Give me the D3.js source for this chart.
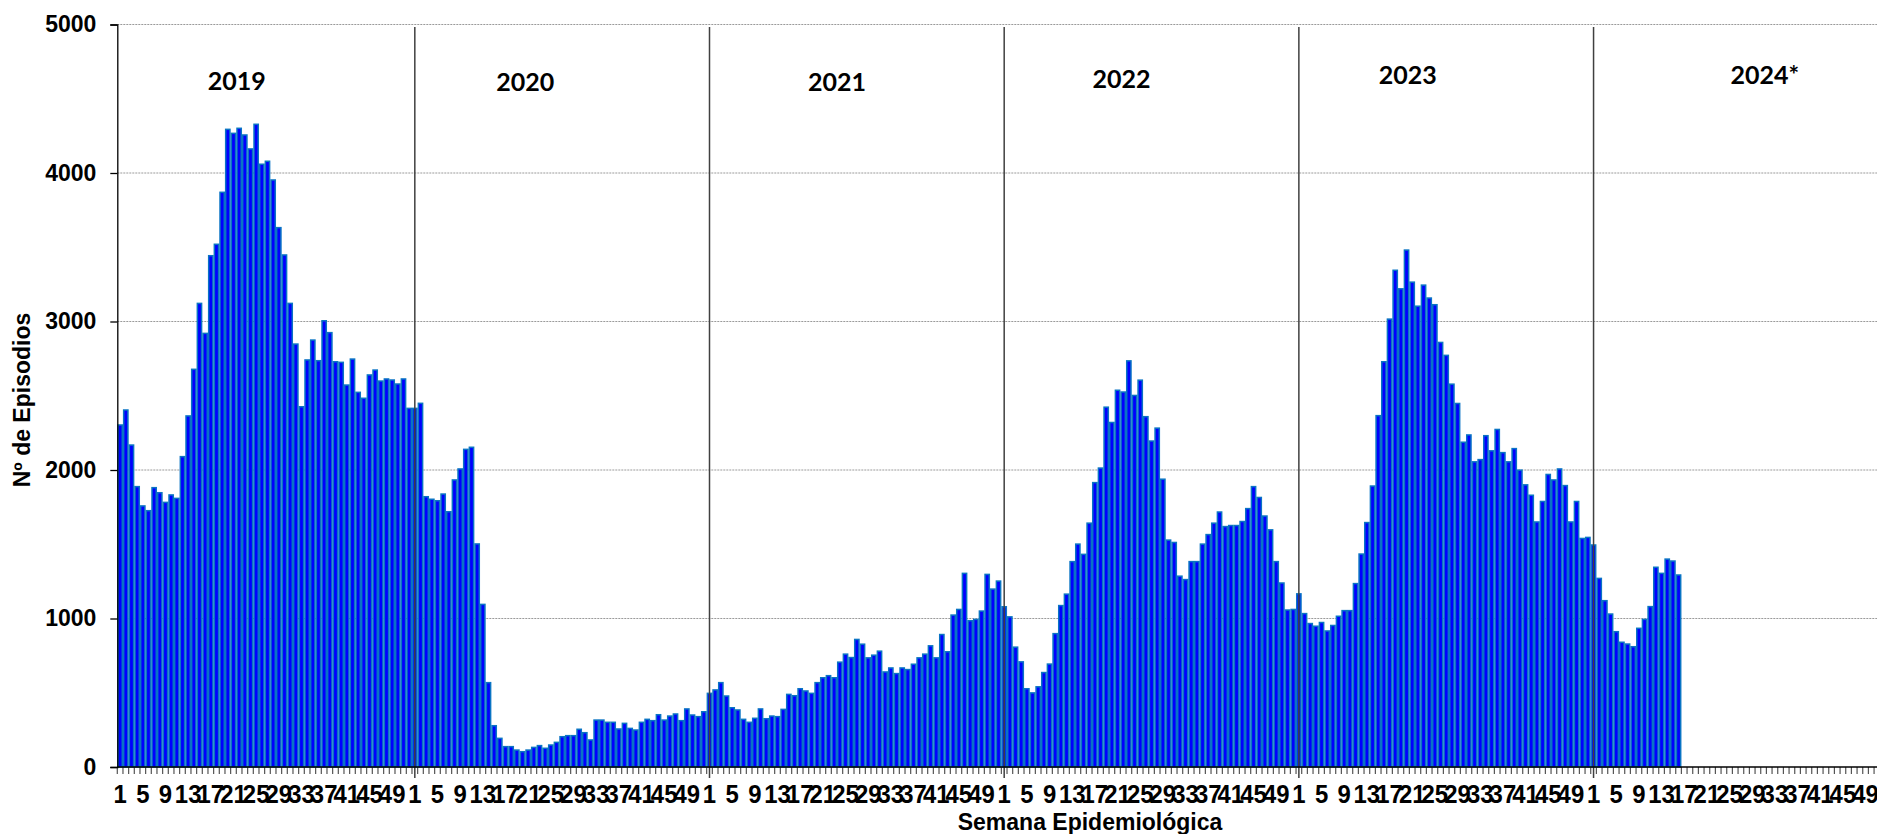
<!DOCTYPE html>
<html>
<head>
<meta charset="utf-8">
<script src="https://cdn.jsdelivr.net/npm/d3@7"></script>
<style>
  body { margin: 0; background: #fff; overflow: hidden; }
  svg { display: block; }
</style>
</head>
<body>
<svg id="chart" width="1877" height="834"></svg>
<script>
// DATA
const years = ["2019", "2020", "2021", "2022", "2023", "2024*"];
const weekTicks = [1, 5, 9, 13, 17, 21, 25, 29, 33, 37, 41, 45, 49];
const yTicks = [0, 1000, 2000, 3000, 4000, 5000];

const ep2019 = [2303, 2404, 2168, 1888, 1758, 1726, 1881, 1847, 1782, 1832, 1809, 2090, 2364,
    2678, 3122, 2920, 3443, 3520, 3870, 4294, 4267, 4301, 4256, 4162, 4328, 4059,
    4079, 3953, 3632, 3448, 3122, 2848, 2426, 2741, 2875, 2736, 3005, 2925, 2729,
    2725, 2572, 2747, 2523, 2483, 2640, 2673, 2599, 2613, 2606, 2579, 2613, 2415];
const ep2020 = [2415, 2449, 1820, 1803, 1793, 1838, 1719, 1933, 2007, 2139, 2153, 1502, 1095,
    568, 278, 193, 137, 137, 114, 103, 114, 132, 144, 126, 148, 166,
    204, 211, 211, 254, 231, 182, 316, 316, 301, 301, 256, 294, 260,
    249, 301, 321, 312, 352, 316, 343, 357, 312, 391, 350, 339, 372];
const ep2021 = [496, 519, 568, 478, 399, 384, 321, 301, 328, 391, 325, 343, 339,
    388, 489, 480, 527, 512, 496, 568, 601, 615, 601, 706, 760, 737,
    859, 827, 735, 753, 780, 640, 667, 629, 667, 656, 692, 735, 760,
    816, 735, 892, 776, 1023, 1061, 1304, 985, 994, 1050, 1297, 1198, 1252];
const ep2022 = [1079, 1011, 807, 708, 527, 499, 540, 636, 693, 898, 1087, 1164, 1383,
    1501, 1432, 1642, 1915, 2013, 2423, 2320, 2537, 2525, 2735, 2502, 2605, 2359,
    2195, 2282, 1938, 1528, 1512, 1285, 1262, 1383, 1383, 1501, 1565, 1642, 1717,
    1619, 1626, 1626, 1653, 1740, 1888, 1815, 1690, 1597, 1383, 1239, 1057, 1061];
const ep2023 = [1166, 1033, 966, 948, 973, 916, 953, 1015, 1053, 1053, 1235, 1434, 1646,
    1892, 2366, 2729, 3016, 3345, 3220, 3481, 3265, 3103, 3245, 3158, 3113, 2859,
    2772, 2578, 2448, 2187, 2236, 2055, 2070, 2231, 2129, 2273, 2117, 2055, 2144,
    1999, 1900, 1830, 1650, 1788, 1970, 1933, 2007, 1895, 1650, 1788, 1539, 1546];
const ep2024 = [1495, 1270, 1120, 1030, 911, 840, 828, 810, 934, 994, 1080, 1345, 1304,
    1400, 1387, 1293];

const series = [ep2019, ep2020, ep2021, ep2022, ep2023, ep2024];
const weeksPerYear = 52;

// where each year title sits: week offset inside the year, height in episodes
const yearLabelAt = [[21.1, 4560], [20.0, 4550], [23.0, 4550], [21.2, 4570], [19.7, 4600], [30.7, 4600]];

// one entry per category on the axis (every week of every year)
var cats = [];
years.forEach(function (yr, i) {
    for (var w = 1; w <= weeksPerYear; w++) {
        cats.push({ idx: cats.length, year: yr, week: w, value: series[i][w - 1] });
    }
});

var svg = d3.select("#chart"),
    plotLeft = 117.3,
    plotTop = 24.5,
    plotBottom = 767,
    bandW = 5.667,
    plotRight = plotLeft + cats.length * bandW;

var x = d3.scaleBand()
    .domain(cats.map(function (d) { return d.idx; }))
    .range([plotLeft, plotRight])
    .padding(0);

var y = d3.scaleLinear().domain([0, 5000]).range([plotBottom, plotTop]);

// gridlines
svg.append("g")
    .selectAll("line")
    .data(yTicks.filter(function (d) { return d > 0; }))
    .enter().append("line")
    .attr("x1", plotLeft).attr("x2", plotRight)
    .attr("y1", function (d) { return y(d); })
    .attr("y2", function (d) { return y(d); })
    .attr("stroke", "#9a9a9a")
    .attr("stroke-width", 1)
    .attr("stroke-dasharray", "2,1");

// bars
svg.append("g")
    .selectAll("rect")
    .data(cats.filter(function (d) { return d.value !== undefined; }))
    .enter().append("rect")
    .attr("x", function (d) { return x(d.idx) + 0.7; })
    .attr("y", function (d) { return y(d.value); })
    .attr("width", x.bandwidth() - 1.4)
    .attr("height", function (d) { return plotBottom - y(d.value); })
    .attr("fill", "#0000ff")
    .attr("stroke", "#0a74c4")
    .attr("stroke-width", 1.5);

// year separators
svg.append("g")
    .selectAll("line")
    .data(years.slice(1))
    .enter().append("line")
    .attr("x1", function (d, i) { return x((i + 1) * weeksPerYear) + x.bandwidth() / 2; })
    .attr("x2", function (d, i) { return x((i + 1) * weeksPerYear) + x.bandwidth() / 2; })
    .attr("y1", 27)
    .attr("y2", 778)
    .attr("stroke", "#404040")
    .attr("stroke-width", 1.5);

// small ticks at every category boundary
svg.append("g")
    .selectAll("line")
    .data(cats)
    .enter().append("line")
    .attr("x1", function (d) { return x(d.idx); })
    .attr("x2", function (d) { return x(d.idx); })
    .attr("y1", plotBottom)
    .attr("y2", plotBottom + 7)
    .attr("stroke", "#555")
    .attr("stroke-width", 1.2);

// x axis labels
var xAxis = svg.append("g")
    .attr("transform", "translate(0," + plotBottom + ")")
    .call(d3.axisBottom(x)
        .tickValues(cats.filter(function (d) { return weekTicks.indexOf(d.week) >= 0; })
            .map(function (d) { return d.idx; }))
        .tickFormat(function (i) { return cats[i].week; })
        .tickSize(0)
        .tickPadding(18));
xAxis.select(".domain").remove();
xAxis.selectAll("text")
    .attr("font-family", "'Liberation Sans', Arial, sans-serif")
    .attr("font-weight", "bold")
    .attr("font-size", "26px")
    .attr("transform", "scale(0.92,1)")
    .attr("fill", "#000");

svg.append("line")
    .attr("x1", plotLeft).attr("x2", plotRight)
    .attr("y1", plotBottom).attr("y2", plotBottom)
    .attr("stroke", "#000").attr("stroke-width", 1.3);

// y axis
var yAxis = svg.append("g")
    .attr("transform", "translate(" + plotLeft + ",0)")
    .call(d3.axisLeft(y).tickValues(yTicks).tickFormat(d3.format("d"))
        .tickSizeOuter(0).tickSize(7).tickPadding(14));
yAxis.select(".domain").attr("stroke", "#000").attr("stroke-width", 1.3);
yAxis.selectAll(".tick line").attr("stroke", "#000").attr("stroke-width", 1.3);
yAxis.selectAll("text")
    .attr("font-family", "'Liberation Sans', Arial, sans-serif")
    .attr("font-weight", "bold")
    .attr("font-size", "23px")
    .attr("fill", "#000");

// year titles
svg.append("g")
    .selectAll("text")
    .data(years)
    .enter().append("text")
    .attr("x", function (d, i) { return x(i * weeksPerYear) + yearLabelAt[i][0] * x.bandwidth(); })
    .attr("y", function (d, i) { return y(yearLabelAt[i][1]); })
    .attr("text-anchor", "middle")
    .attr("font-family", "Lato, 'Liberation Sans', sans-serif")
    .attr("font-weight", "bold")
    .attr("font-size", "25px")
    .attr("fill", "#000")
    .text(function (d) { return d; });

// axis titles
svg.append("text")
    .attr("transform", "translate(30,400) rotate(-90)")
    .attr("text-anchor", "middle")
    .attr("font-family", "'Liberation Sans', Arial, sans-serif")
    .attr("font-weight", "bold")
    .attr("font-size", "23px")
    .text("Nº de Episodios");

svg.append("text")
    .attr("x", 1090)
    .attr("y", 830)
    .attr("text-anchor", "middle")
    .attr("font-family", "'Liberation Sans', Arial, sans-serif")
    .attr("font-weight", "bold")
    .attr("font-size", "23px")
    .text("Semana Epidemiológica");
</script>
</body>
</html>
